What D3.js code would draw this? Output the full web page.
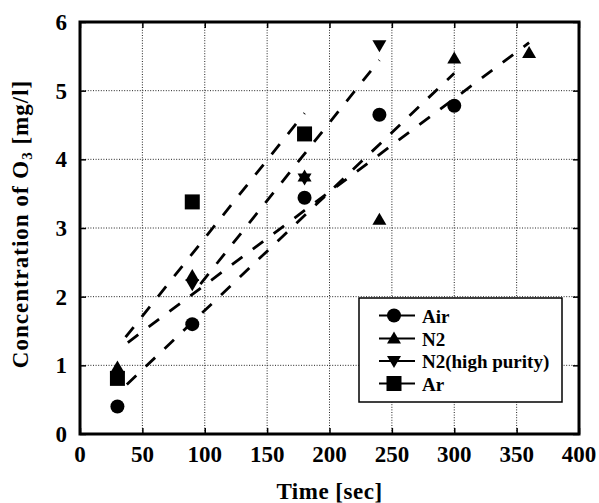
<!DOCTYPE html>
<html>
<head>
<meta charset="utf-8">
<script src="https://cdn.jsdelivr.net/npm/d3@7"></script>
<style>
  html, body { margin: 0; padding: 0; background: #fff; }
  svg { display: block; }
  text { font-family: "Liberation Serif", "Times New Roman", serif; font-weight: bold; fill: #000; }
</style>
</head>
<body>
<svg id="chart" width="599" height="503"></svg>
<script>
// ---- data ----
const xTicks = [0, 50, 100, 150, 200, 250, 300, 350, 400];
const yTicks = [0, 1, 2, 3, 4, 5, 6];
const seriesNames = ["Air", "N2", "N2(high purity)", "Ar"];
const seriesShapes = ["circle", "triangleUp", "triangleDown", "square"];
const airTime = [30, 90, 180, 240, 300];
const airO3   = [0.40, 1.60, 3.44, 4.65, 4.78];
const n2Time  = [30, 90, 180, 240, 300, 360];
const n2O3    = [0.97, 2.30, 3.75, 3.12, 5.47, 5.55];
const n2hpTime = [90, 180, 240];
const n2hpO3   = [2.18, 3.72, 5.66];
const arTime  = [30, 90, 180];
const arO3    = [0.81, 3.38, 4.37];

const series = [
  { name: seriesNames[0], shape: seriesShapes[0], t: airTime, v: airO3 },
  { name: seriesNames[1], shape: seriesShapes[1], t: n2Time, v: n2O3 },
  { name: seriesNames[2], shape: seriesShapes[2], t: n2hpTime, v: n2hpO3 },
  { name: seriesNames[3], shape: seriesShapes[3], t: arTime, v: arO3 }
];

const svg = d3.select("#chart");
const L = 80, R = 579, T = 22, B = 434;
const x = d3.scaleLinear().domain([0, 400]).range([L, R]);
const y = d3.scaleLinear().domain([0, 6]).range([B, T]);

// grid
const grid = svg.append("g");
grid.selectAll("line.vx").data(xTicks.filter(d => d > 0 && d < 400)).join("line")
  .attr("x1", d => x(d)).attr("x2", d => x(d)).attr("y1", T).attr("y2", B)
  .attr("stroke", "#222").attr("stroke-width", 1).attr("stroke-dasharray", "1,1.6");
grid.selectAll("line.hy").data(yTicks.filter(d => d > 0 && d < 6)).join("line")
  .attr("x1", L).attr("x2", R).attr("y1", d => y(d)).attr("y2", d => y(d))
  .attr("stroke", "#222").attr("stroke-width", 1).attr("stroke-dasharray", "1,1.6");

// inward ticks on all sides
const tk = 6;
function styleAxis(g) {
  g.select(".domain").remove();
  g.selectAll(".tick line").attr("stroke", "#000").attr("stroke-width", 1.5);
}
svg.append("g").attr("transform", `translate(0,${B})`)
  .call(d3.axisBottom(x).tickValues(xTicks).tickSize(-tk).tickFormat(""))
  .call(styleAxis);
svg.append("g").attr("transform", `translate(0,${T})`)
  .call(d3.axisTop(x).tickValues(xTicks).tickSize(-tk).tickFormat(""))
  .call(styleAxis);
svg.append("g").attr("transform", `translate(${L},0)`)
  .call(d3.axisLeft(y).tickValues(yTicks).tickSize(-tk).tickFormat(""))
  .call(styleAxis);
svg.append("g").attr("transform", `translate(${R},0)`)
  .call(d3.axisRight(y).tickValues(yTicks).tickSize(-tk).tickFormat(""))
  .call(styleAxis);

// tick labels
svg.append("g").selectAll("text").data(xTicks).join("text")
  .attr("x", d => x(d)).attr("y", 462)
  .attr("text-anchor", "middle").attr("font-size", 23)
  .text(d => d);
svg.append("g").selectAll("text").data(yTicks).join("text")
  .attr("x", 67).attr("y", d => y(d) + 8)
  .attr("text-anchor", "end").attr("font-size", 23)
  .text(d => d);

// axis titles
svg.append("text").attr("x", (L + R) / 2).attr("y", 499)
  .attr("text-anchor", "middle").attr("font-size", 23).attr("letter-spacing", 0.5)
  .text("Time [sec]");
const yt = svg.append("text")
  .attr("transform", "translate(28,224) rotate(-90)")
  .attr("text-anchor", "middle").attr("font-size", 23).attr("letter-spacing", 1);
yt.append("tspan").text("Concentration of O");
yt.append("tspan").attr("font-size", 15).attr("dy", 4).text("3");
yt.append("tspan").attr("dy", -4).text(" [mg/l]");

// regression (least squares) lines drawn over each series' own time range
function fit(t, v) {
  const mt = d3.mean(t), mv = d3.mean(v);
  let sxy = 0, sxx = 0;
  t.forEach((ti, i) => { sxy += (ti - mt) * (v[i] - mv); sxx += (ti - mt) ** 2; });
  const b = sxy / sxx, a = mv - b * mt;
  const t0 = d3.min(t), t1 = d3.max(t);
  return [[t0, a + b * t0], [t1, a + b * t1]];
}
const lineGen = d3.line().x(d => x(d[0])).y(d => y(d[1]));
svg.append("g").selectAll("path").data(series).join("path")
  .attr("d", s => lineGen(fit(s.t, s.v)))
  .attr("fill", "none").attr("stroke", "#000").attr("stroke-width", 2.8)
  .attr("stroke-dasharray", "13,13").attr("stroke-dashoffset", -13);

// markers
function symbolPath(shape) {
  switch (shape) {
    case "circle": return "M7,0A7,7 0 1,1 -7,0A7,7 0 1,1 7,0Z";
    case "square": return "M-7.5,-7.5H7.5V7.5H-7.5Z";
    case "triangleUp": return "M0,-7L7,5H-7Z";
    case "triangleDown": return "M0,7L7,-5H-7Z";
  }
}
series.forEach(s => {
  svg.append("g").selectAll("path").data(s.t.map((t, i) => [t, s.v[i]])).join("path")
    .attr("transform", d => `translate(${x(d[0])},${y(d[1])})`)
    .attr("d", symbolPath(s.shape)).attr("fill", "#000");
});

// frame
svg.append("rect").attr("x", L).attr("y", T).attr("width", R - L).attr("height", B - T)
  .attr("fill", "none").attr("stroke", "#000").attr("stroke-width", 3);

// legend
const lg = svg.append("g");
lg.append("rect").attr("x", 359).attr("y", 298).attr("width", 203).attr("height", 104)
  .attr("fill", "#fff").attr("stroke", "#000").attr("stroke-width", 1.5);
const rowY = [315.5, 338.5, 361, 383.5];
const rows = lg.selectAll("g.row").data(series).join("g")
  .attr("transform", (d, i) => `translate(0,${rowY[i]})`);
rows.append("line").attr("x1", 379).attr("x2", 415).attr("y1", 0).attr("y2", 0)
  .attr("stroke", "#000").attr("stroke-width", 2);
rows.append("path").attr("transform", "translate(394,0)").attr("d", d => symbolPath(d.shape)).attr("fill", "#000");
rows.append("text").attr("x", 422).attr("y", 7).attr("font-size", 19).text(d => d.name);
</script>
</body>
</html>
